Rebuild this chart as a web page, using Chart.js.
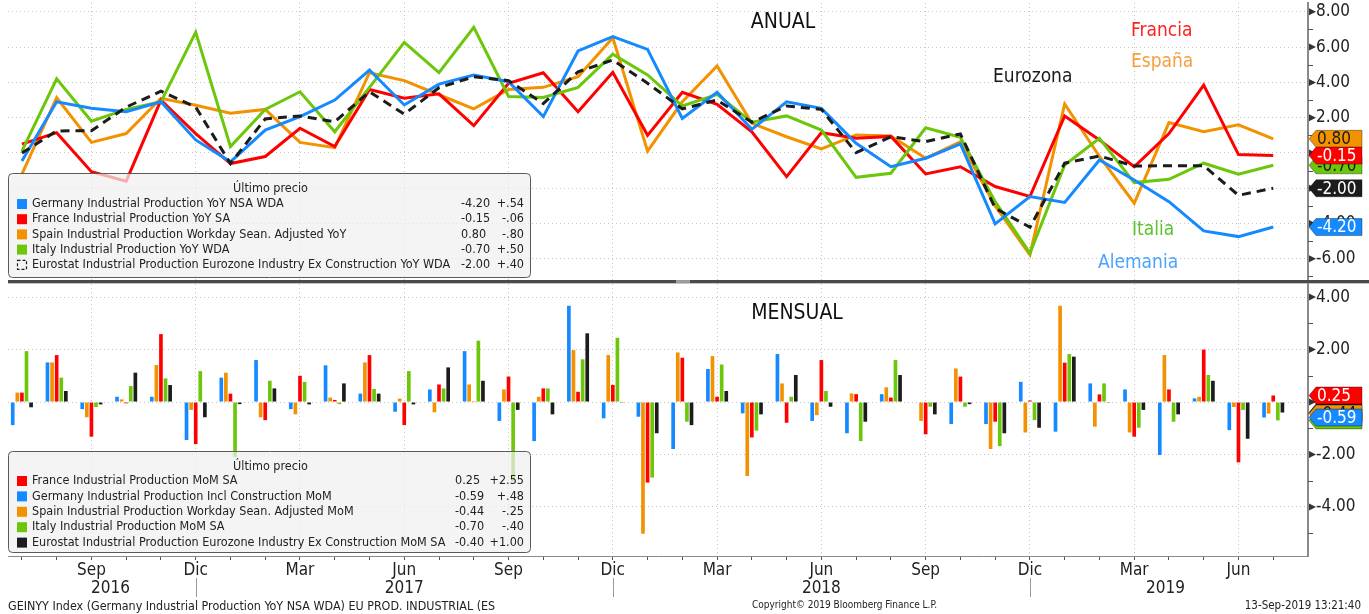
<!DOCTYPE html>
<html>
<head>
<meta charset="utf-8">
<script src="https://cdn.jsdelivr.net/npm/chart.js@4.4.1/dist/chart.umd.min.js"></script>
<style>
  html, body { margin: 0; padding: 0; background: #fff; }
  body { width: 1369px; height: 614px; position: relative; overflow: hidden;
         font-family: "DejaVu Sans Condensed", "DejaVu Sans", sans-serif; color: #222; }
  canvas { position: absolute; left: 0; }
  #top { top: 0; }
  #bottom { top: 283px; }
  .sep { position: absolute; left: 8px; top: 280px; width: 1361px; height: 3px; background: #4a4a4a; }
  .sep2 { position: absolute; left: 8px; top: 283px; width: 1361px; height: 1px; background: #c4c4c4; }
  .grip { position: absolute; left: 676px; top: 280px; width: 14px; height: 3px; background: #9c9c9c; }
  .foot { position: absolute; top: 599px; font-size: 10.5px; white-space: nowrap; color: #222; }
</style>
</head>
<body>
<canvas id="top" width="1369" height="281"></canvas>
<div class="sep"></div><div class="sep2"></div><div class="grip"></div>
<canvas id="bottom" width="1369" height="317"></canvas>
<div class="foot" style="left:8px; font-size:12.4px; top:598px">GEINYY Index (Germany Industrial Production YoY NSA WDA) EU PROD. INDUSTRIAL (ES</div>
<div class="foot" style="left:752px; font-size:10px">Copyright© 2019 Bloomberg Finance L.P.</div>
<div class="foot" style="right:8px; font-size:11.5px; top:598px">13-Sep-2019 13:21:40</div>
<script>
// meses jul 2016 - jul 2019
const months = ['Jul','Ago','Sep','Oct','Nov','Dic','Ene','Feb','Mar','Abr','May','Jun',
                'Jul','Ago','Sep','Oct','Nov','Dic','Ene','Feb','Mar','Abr','May','Jun',
                'Jul','Ago','Sep','Oct','Nov','Dic','Ene','Feb','Mar','Abr','May','Jun','Jul'];
const quarterLabels = ['Sep','Dic','Mar','Jun'];
const years = ['2016','2017','2018','2019'];

// ANUAL (YoY)
const germanyYoY  = [-0.45,2.9,2.53,2.34,2.9,0.74,-0.5,1.3,2.06,3.0,4.7,2.72,3.9,4.42,4.04,2.06,5.78,6.6,5.87,1.96,3.44,1.34,2.9,2.53,0.55,-0.78,-0.3,0.51,-4.02,-2.47,-2.8,-0.4,-1.53,-2.76,-4.42,-4.74,-4.2];
const franceYoY   = [0.5,1.15,-1.06,-1.6,3.0,1.1,-0.6,-0.2,1.4,0.36,3.6,3.1,3.35,1.55,3.95,4.55,2.34,4.57,1.0,3.44,2.76,1.2,-1.34,1.15,0.83,0.94,-1.19,-0.78,-1.9,-2.47,2.1,0.74,-0.78,1.1,3.85,-0.09,-0.15];
const spainYoY    = [-1.2,3.13,0.6,1.1,3.1,2.7,2.25,2.47,0.6,0.3,4.55,4.1,3.3,2.5,3.6,3.72,4.32,6.53,0.1,2.9,4.93,1.68,0.92,0.23,1.02,0.96,-0.3,0.64,-3.0,-5.78,2.78,-0.2,-2.85,1.72,1.2,1.6,0.8];
const italyYoY    = [0.1,4.2,1.8,2.47,2.9,6.84,0.36,2.47,3.47,1.2,3.72,6.27,4.55,7.12,3.2,3.15,3.72,5.6,4.42,2.66,3.32,1.74,2.1,1.3,-1.38,-1.15,1.43,0.89,-2.76,-5.68,-0.68,0.83,-1.68,-1.49,-0.58,-1.2,-0.7];
const eurozoneYoY = [0.0,1.25,1.26,2.6,3.5,2.6,-0.6,1.93,2.1,1.77,3.47,2.2,3.7,4.32,4.1,2.8,4.6,5.27,3.95,2.5,3.0,1.74,2.66,2.47,0.02,0.92,0.64,1.08,-3.13,-4.21,-0.58,-0.17,-0.74,-0.72,-0.72,-2.4,-2.0];

// MENSUAL (MoM)
const germanyMoM  = [-0.88,1.51,-0.27,0.2,0.2,-1.45,0.93,1.6,-0.27,1.4,0.32,-0.37,0.48,1.94,-0.72,-1.49,3.67,-0.62,-0.56,-1.79,1.26,-0.43,1.83,-0.72,-1.19,0.3,0.02,-0.84,-0.84,0.77,-1.13,0.71,0.48,-2.02,0.14,-1.07,-0.59];
const spainMoM    = [0.36,1.51,-0.58,0.1,1.41,-0.3,1.12,-0.58,-0.47,0.17,1.51,0.13,-0.39,0.67,0.48,0.2,1.98,1.79,-5.02,1.89,1.75,-2.82,0.71,-0.5,0.33,0.56,-0.72,1.28,-1.79,-1.16,3.67,-0.94,-1.16,1.79,0.2,-0.19,-0.44];
const franceMoM   = [0.36,1.79,-1.32,-0.05,2.59,-1.6,0.32,-0.69,1.0,0.08,1.79,-0.88,0.67,0.03,0.97,0.52,0.39,0.65,-3.07,1.69,0.2,-1.35,-0.79,1.6,0.3,0.17,-1.23,0.97,-0.75,0.06,1.5,0.29,-1.32,0.48,2.0,-2.3,0.25];
const italyMoM    = [1.94,0.93,-0.19,0.61,0.9,1.18,-2.1,0.81,0.77,-0.08,0.5,1.18,0.52,2.34,-3.03,0.52,1.63,2.45,-2.88,-0.75,1.43,-1.09,0.2,0.42,-1.49,1.6,-0.18,-0.18,-1.68,-0.69,1.83,0.71,-0.98,-0.75,1.03,-0.3,-0.7];
const eurozoneMoM = [-0.2,0.42,-0.09,1.12,0.65,-0.58,-0.08,0.52,-0.09,0.71,0.32,-0.09,1.32,0.81,-0.3,-0.47,2.62,-0.01,-1.19,-0.88,0.42,-0.47,1.03,-0.18,-0.75,1.03,-0.47,-0.08,-1.19,-0.98,1.73,-0.01,-0.3,-0.47,0.81,-1.4,-0.4];

const topNames = ['Germany Industrial Production YoY NSA WDA','France Industrial Production YoY SA',
  'Spain Industrial Production Workday Sean. Adjusted YoY','Italy Industrial Production YoY WDA',
  'Eurostat Industrial Production Eurozone Industry Ex Construction YoY WDA'];
const bottomNames = ['France Industrial Production MoM SA','Germany Industrial Production Incl Construction MoM',
  'Spain Industrial Production Workday Sean. Adjusted MoM','Italy Industrial Production MoM SA',
  'Eurostat Industrial Production Eurozone Industry Ex Construction MoM SA'];

const topYTicks = [-6, -4, -2, 0, 2, 4, 6, 8];
const topYMinor = [-7, -5, -3, -1, 1, 3, 5, 7];
const botYTicks = [-4, -2, 0, 2, 4];
const botYMinor = [-5, -3, -1, 1, 3];

const BLUE = '#1589ff', RED = '#ff0000', ORANGE = '#f39200', GREEN = '#6cc70a', BLACK = '#1c1c1c';
const FONT = '"DejaVu Sans Condensed", "DejaVu Sans", sans-serif';
const GRID = '#c4c4c4';

Chart.defaults.font.family = FONT;
Chart.defaults.color = '#222';

const isQuarter = v => Number.isInteger(v) && quarterLabels.includes(months[v]);
const xy = arr => arr.map((v, i) => ({ x: i, y: v }));
const last = arr => arr[arr.length - 1];
function fmtChg(arr) {
  const c = Math.round((arr[arr.length - 1] - arr[arr.length - 2]) * 100) / 100;
  let t = Math.abs(c).toFixed(2);
  if (t.startsWith('0')) t = t.slice(1);
  return (c >= 0 ? '+' : '-') + t;
}

function xScaleOpts(extra) {
  return Object.assign({
    type: 'linear', min: -0.4, max: 37, offset: false,
    afterBuildTicks: s => { s.ticks = months.map((m, i) => ({ value: i })); },
    grid: { offset: false, color: c => (c.tick && isQuarter(c.tick.value)) ? GRID : 'rgba(0,0,0,0)', drawTicks: false },
    border: { display: false, dash: [1, 3] },
    ticks: { display: false, autoSkip: false, maxRotation: 0 }
  }, extra || {});
}

function yScaleOpts(min, max, ticks) {
  return {
    position: 'right', min: min, max: max,
    afterBuildTicks: s => { s.ticks = ticks.map(v => ({ value: v })); },
    afterFit: s => { s.width = 61; s.paddingTop = 0; s.paddingBottom = 0; },
    ticks: { padding: 8, font: { size: 17 }, color: '#222', callback: v => v.toFixed(2) },
    grid: { color: GRID, drawTicks: false },
    border: { display: true, color: '#8a8a8a', width: 2, dash: [1, 3] }
  };
}

function axisMarks(ctx, ys, majors, minors) {
  const x0 = ys.left;
  ctx.save();
  ctx.fillStyle = '#333';
  ctx.strokeStyle = '#555';
  ctx.lineWidth = 1;
  majors.forEach(v => {
    const y = ys.getPixelForValue(v);
    ctx.beginPath();
    ctx.moveTo(x0 + 1, y - 3.5); ctx.lineTo(x0 + 8, y); ctx.lineTo(x0 + 1, y + 3.5);
    ctx.closePath(); ctx.fill();
  });
  minors.forEach(v => {
    const y = Math.round(ys.getPixelForValue(v)) + 0.5;
    if (y < ys.top || y > ys.bottom) return;
    ctx.beginPath(); ctx.moveTo(x0, y); ctx.lineTo(x0 + 5, y); ctx.stroke();
  });
  ctx.restore();
}

function tag(ctx, x, y, color, text, textColor) {
  const w = 53, h = 17;
  ctx.save();
  ctx.beginPath();
  ctx.moveTo(x, y);
  ctx.lineTo(x + 7, y - h / 2);
  ctx.lineTo(x + w, y - h / 2);
  ctx.lineTo(x + w, y + h / 2);
  ctx.lineTo(x + 7, y + h / 2);
  ctx.closePath();
  ctx.fillStyle = color;
  ctx.fill();
  ctx.strokeStyle = 'rgba(0,0,0,0.35)';
  ctx.lineWidth = 1;
  ctx.stroke();
  ctx.fillStyle = textColor;
  ctx.font = '17px ' + FONT;
  ctx.textAlign = 'left';
  ctx.textBaseline = 'middle';
  ctx.fillText(text, x + 8, y + 1);
  ctx.restore();
}

function drawLegend(ctx, box, rows, valueX) {
  const { x, y, w, h } = box, r = 4;
  ctx.save();
  ctx.beginPath();
  ctx.moveTo(x + r, y);
  ctx.arcTo(x + w, y, x + w, y + h, r);
  ctx.arcTo(x + w, y + h, x, y + h, r);
  ctx.arcTo(x, y + h, x, y, r);
  ctx.arcTo(x, y, x + w, y, r);
  ctx.closePath();
  ctx.fillStyle = 'rgba(240,240,240,0.72)';
  ctx.fill();
  ctx.strokeStyle = '#5a5a5a';
  ctx.lineWidth = 1;
  ctx.stroke();
  ctx.font = '12.5px ' + FONT;
  ctx.fillStyle = '#222';
  ctx.textBaseline = 'middle';
  ctx.textAlign = 'center';
  ctx.fillText('Último precio', x + 262, y + box.titleDy);
  rows.forEach((row, i) => {
    const ry = y + box.firstDy + i * box.step;
    if (row.dashed) {
      ctx.save();
      ctx.strokeStyle = row.color; ctx.lineWidth = 1.2; ctx.setLineDash([3, 2]);
      ctx.strokeRect(17.5, ry - 4.5, 9, 9);
      ctx.restore();
    } else {
      ctx.fillStyle = row.color;
      ctx.fillRect(17, ry - 5, 10, 10);
    }
    ctx.fillStyle = '#222';
    ctx.textAlign = 'left';
    ctx.fillText(row.name, 32, ry);
    ctx.fillText(row.value, valueX, ry);
    ctx.textAlign = 'right';
    ctx.fillText(row.change, 524, ry);
  });
  ctx.restore();
}

function text(ctx, s, x, y, size, color, align) {
  ctx.save();
  ctx.font = size + 'px ' + FONT;
  ctx.fillStyle = color;
  ctx.textAlign = align || 'left';
  ctx.textBaseline = 'middle';
  ctx.fillText(s, x, y);
  ctx.restore();
}

// ---------- ANUAL ----------
const topSeries = [
  { label: topNames[0], data: germanyYoY, color: BLUE, txt: '#fff', order: 1 },
  { label: topNames[1], data: franceYoY, color: RED, txt: '#fff', order: 3 },
  { label: topNames[2], data: spainYoY, color: ORANGE, txt: '#1a1a1a', order: 4 },
  { label: topNames[3], data: italyYoY, color: GREEN, txt: '#1a1a1a', order: 2 },
  { label: topNames[4], data: eurozoneYoY, color: BLACK, txt: '#fff', order: 0, dash: [9, 6] }
];

const topDecor = {
  id: 'topDecor',
  afterDraw(chart) {
    const ctx = chart.ctx, ys = chart.scales.y;
    axisMarks(ctx, ys, topYTicks, topYMinor);
    // etiquetas del ultimo valor
    [0, 4, 3, 2, 1].forEach(i => {
      const s = topSeries[i];
      tag(ctx, ys.left + 1, ys.getPixelForValue(last(s.data)), s.color, last(s.data).toFixed(2), s.txt);
    });
    text(ctx, 'ANUAL', 783, 23, 21, '#111', 'center');
    text(ctx, 'Francia', 1131, 31, 19, '#ff2020');
    text(ctx, 'España', 1131, 62, 19, '#f5a040');
    text(ctx, 'Eurozona', 993, 77, 19, '#1a1a1a');
    text(ctx, 'Italia', 1132, 230, 19, '#5cc22c');
    text(ctx, 'Alemania', 1098, 263, 19, '#4ba4ff');
    drawLegend(ctx, { x: 8.5, y: 173.5, w: 522, h: 104, titleDy: 15, firstDy: 30.5, step: 15.2 },
      topSeries.map(s => ({ name: s.label, color: s.color, dashed: !!s.dash, value: last(s.data).toFixed(2), change: fmtChg(s.data) })), 461);
  }
};

new Chart(document.getElementById('top'), {
  type: 'line',
  data: {
    datasets: topSeries.map(s => ({
      label: s.label, data: xy(s.data), borderColor: s.color, backgroundColor: s.color,
      borderWidth: 3, borderDash: s.dash || [], pointRadius: 0, tension: 0, order: s.order
    }))
  },
  options: {
    responsive: false, animation: false, devicePixelRatio: 1,
    layout: { padding: { left: 8, top: 3, right: 0, bottom: 0 } },
    plugins: { legend: { display: false }, tooltip: { enabled: false } },
    scales: {
      x: xScaleOpts({ afterFit: s => { s.height = 1; } }),
      y: yScaleOpts(-7.2, 8.5, topYTicks)
    }
  },
  plugins: [topDecor]
});

// ---------- MENSUAL ----------
const barSeries = [
  { label: bottomNames[1], data: germanyMoM, color: BLUE, txt: '#fff' },
  { label: bottomNames[2], data: spainMoM, color: ORANGE, txt: '#1a1a1a' },
  { label: bottomNames[0], data: franceMoM, color: RED, txt: '#fff' },
  { label: bottomNames[3], data: italyMoM, color: GREEN, txt: '#1a1a1a' },
  { label: bottomNames[4], data: eurozoneMoM, color: BLACK, txt: '#fff' }
];
const legendOrder = [2, 0, 1, 3, 4];

const bottomDecor = {
  id: 'bottomDecor',
  afterDraw(chart) {
    const ctx = chart.ctx, ys = chart.scales.y, xs = chart.scales.x;
    axisMarks(ctx, ys, botYTicks, botYMinor);
    [4, 3, 1, 0, 2].forEach(i => {
      const s = barSeries[i];
      tag(ctx, ys.left + 1, ys.getPixelForValue(last(s.data)), s.color, last(s.data).toFixed(2), s.txt);
    });
    text(ctx, 'MENSUAL', 797, 31, 21, '#111', 'center');
    drawLegend(ctx, { x: 8.5, y: 168.5, w: 522, h: 101, titleDy: 15, firstDy: 29.5, step: 15.4 },
      legendOrder.map(i => barSeries[i]).map(s => ({ name: s.label, color: s.color, value: last(s.data).toFixed(2), change: fmtChg(s.data) })), 455);
    // años y separadores
    const yearAt = [2.55, 11, 23, 32.9];
    years.forEach((yr, i) => text(ctx, yr, xs.getPixelForValue(yearAt[i]), 306, 17, '#222', 'center'));
    ctx.save();
    ctx.strokeStyle = '#9a9a9a';
    ctx.lineWidth = 1;
    months.forEach((m, i) => {
      if (m !== 'Dic') return;
      const x = Math.round(xs.getPixelForValue(i)) + 0.5;
      ctx.beginPath(); ctx.moveTo(x, 295); ctx.lineTo(x, 314); ctx.stroke();
    });
    ctx.restore();
  }
};

new Chart(document.getElementById('bottom'), {
  type: 'bar',
  data: {
    datasets: barSeries.map(s => ({
      label: s.label, data: xy(s.data), backgroundColor: s.color, borderWidth: 0,
      categoryPercentage: 0.66, barPercentage: 0.8
    }))
  },
  options: {
    responsive: false, animation: false, devicePixelRatio: 1,
    layout: { padding: { left: 8, top: 1, right: 0, bottom: 0 } },
    plugins: { legend: { display: false }, tooltip: { enabled: false } },
    scales: {
      x: xScaleOpts({
        afterFit: s => { s.height = 44; },
        grid: { offset: false, color: c => (c.tick && isQuarter(c.tick.value)) ? GRID : 'rgba(0,0,0,0)',
                drawTicks: true, tickLength: 4, tickColor: '#555', tickWidth: 1 },
        border: { display: true, color: '#8a8a8a', width: 1, dash: [1, 3] },
        ticks: { display: true, autoSkip: false, maxRotation: 0, padding: 0, font: { size: 17 }, color: '#222',
                 callback: v => isQuarter(v) ? months[v] : '' }
      }),
      y: yScaleOpts(-5.87, 4.5, botYTicks)
    }
  },
  plugins: [bottomDecor]
});
</script>
</body>
</html>
